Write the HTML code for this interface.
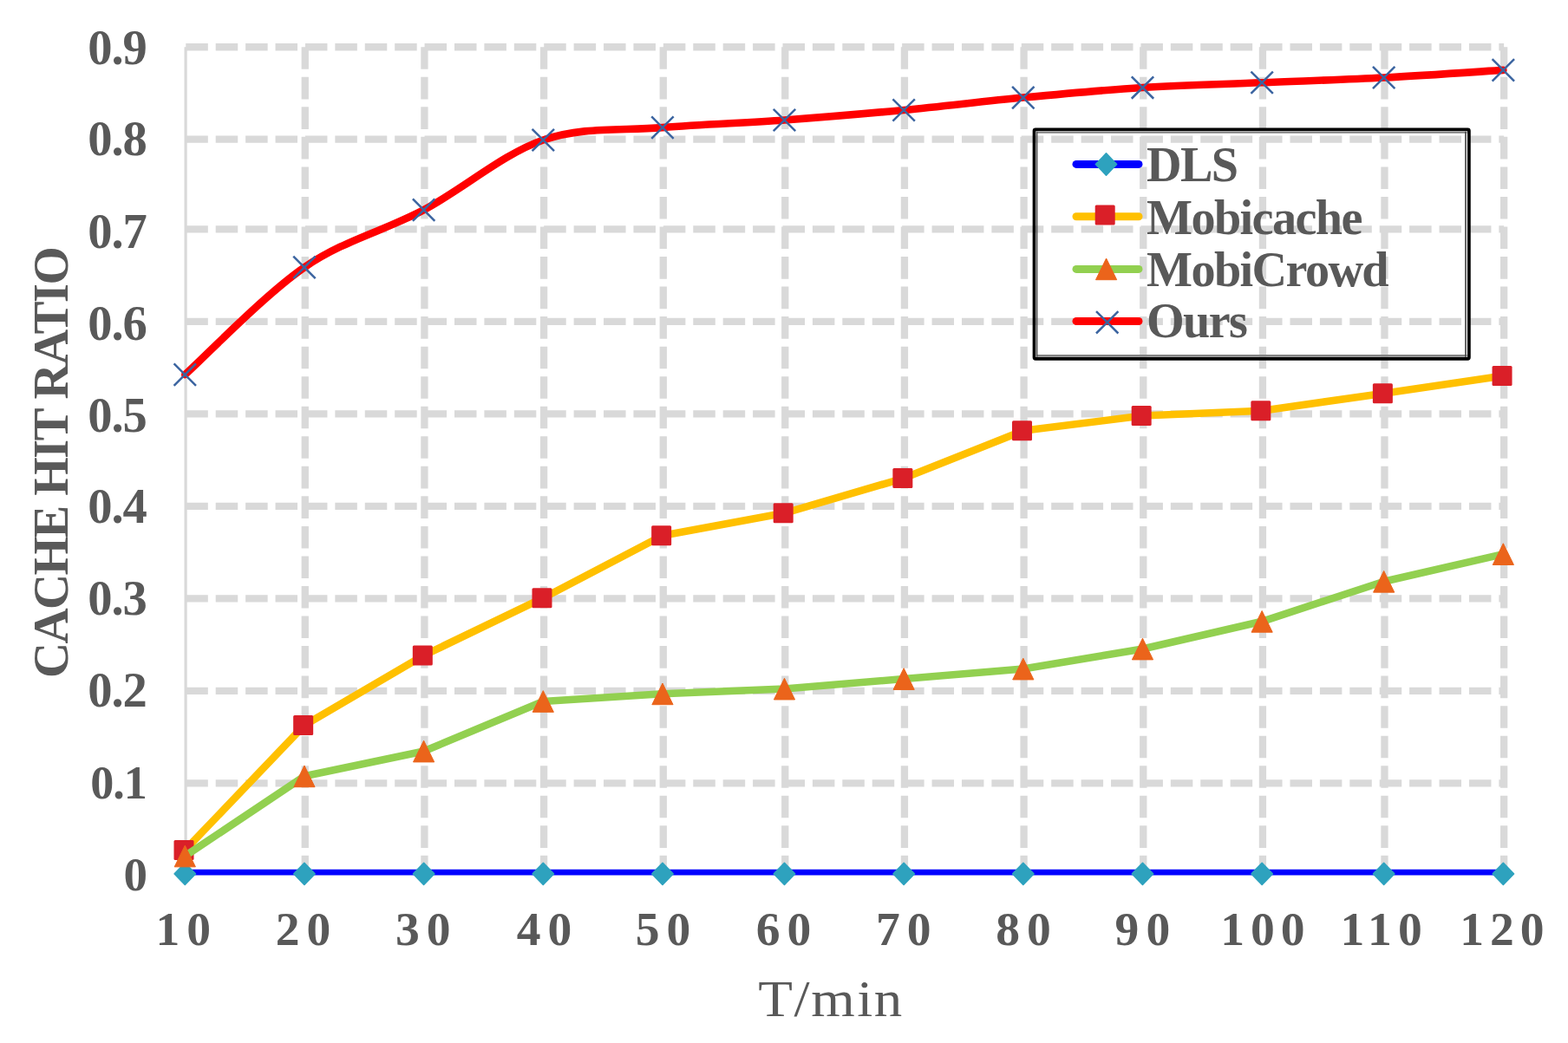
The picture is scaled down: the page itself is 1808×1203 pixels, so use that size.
<!DOCTYPE html>
<html lang="en"><head><meta charset="utf-8"><title>Cache hit ratio vs T/min</title>
<style>
html,body{margin:0;padding:0;background:#fff;}
body{width:1808px;height:1203px;overflow:hidden;}
svg{display:block;}
text{font-family:"Liberation Serif","DejaVu Serif",serif;fill:#595959;}
.b{font-weight:bold;}
</style></head><body>
<svg width="1808" height="1203" viewBox="0 0 1808 1203" role="img" aria-label="Cache hit ratio versus T/min for DLS, Mobicache, MobiCrowd and Ours">
<rect width="1808" height="1203" fill="#fff"/>
<g fill="none" stroke="#D9D9D9" stroke-width="8.3">
<g stroke-dasharray="25.5 8.91">
<path d="M214.30 903.43 H1734.14"/>
<path d="M214.30 796.91 H1734.14"/>
<path d="M214.30 690.38 H1734.14"/>
<path d="M214.30 583.86 H1734.14"/>
<path d="M214.30 477.34 H1734.14"/>
<path d="M214.30 370.82 H1734.14"/>
<path d="M214.30 264.29 H1734.14"/>
<path d="M214.30 160.70 H1734.14"/>
<path d="M214.30 54.25 H1734.14"/>
</g>
<g stroke-dasharray="25.6 8.94">
<path d="M351.76 54.25 V1006.00"/>
<path d="M489.42 54.25 V1006.00"/>
<path d="M627.09 54.25 V1006.00"/>
<path d="M764.75 54.25 V1006.00"/>
<path d="M905.28 54.25 V1006.00"/>
<path d="M1042.95 54.25 V1006.00"/>
<path d="M1180.61 54.25 V1006.00"/>
<path d="M1318.28 54.25 V1006.00"/>
<path d="M1455.94 54.25 V1006.00"/>
<path d="M1596.47 54.25 V1006.00"/>
<path d="M1734.14 54.25 V1006.00"/>
</g>
</g>
<path d="M214.10 54.25 V1006.00" stroke="#D9D9D9" stroke-width="3.2" fill="none"/>
<path d="M213.30 1006.10 L350.96 1006.10 L488.62 1006.10 L626.29 1006.10 L763.95 1006.10 L904.48 1006.10 L1042.15 1006.10 L1179.81 1006.10 L1317.48 1006.10 L1455.14 1006.10 L1595.67 1006.10 L1733.34 1006.10" fill="none" stroke="#0000FF" stroke-width="6.6" stroke-linecap="round" stroke-linejoin="round"/>
<path d="M213.30 995.30 L225.40 1007.90 L213.30 1020.50 L201.20 1007.90Z" fill="#2EA2BE" stroke="#2EA2BE" stroke-width="1.6" stroke-linejoin="round"/>
<path d="M350.96 995.30 L363.06 1007.90 L350.96 1020.50 L338.86 1007.90Z" fill="#2EA2BE" stroke="#2EA2BE" stroke-width="1.6" stroke-linejoin="round"/>
<path d="M488.62 995.30 L500.72 1007.90 L488.62 1020.50 L476.52 1007.90Z" fill="#2EA2BE" stroke="#2EA2BE" stroke-width="1.6" stroke-linejoin="round"/>
<path d="M626.29 995.30 L638.39 1007.90 L626.29 1020.50 L614.19 1007.90Z" fill="#2EA2BE" stroke="#2EA2BE" stroke-width="1.6" stroke-linejoin="round"/>
<path d="M763.95 995.30 L776.05 1007.90 L763.95 1020.50 L751.85 1007.90Z" fill="#2EA2BE" stroke="#2EA2BE" stroke-width="1.6" stroke-linejoin="round"/>
<path d="M904.48 995.30 L916.58 1007.90 L904.48 1020.50 L892.38 1007.90Z" fill="#2EA2BE" stroke="#2EA2BE" stroke-width="1.6" stroke-linejoin="round"/>
<path d="M1042.15 995.30 L1054.25 1007.90 L1042.15 1020.50 L1030.05 1007.90Z" fill="#2EA2BE" stroke="#2EA2BE" stroke-width="1.6" stroke-linejoin="round"/>
<path d="M1179.81 995.30 L1191.91 1007.90 L1179.81 1020.50 L1167.71 1007.90Z" fill="#2EA2BE" stroke="#2EA2BE" stroke-width="1.6" stroke-linejoin="round"/>
<path d="M1317.48 995.30 L1329.58 1007.90 L1317.48 1020.50 L1305.38 1007.90Z" fill="#2EA2BE" stroke="#2EA2BE" stroke-width="1.6" stroke-linejoin="round"/>
<path d="M1455.14 995.30 L1467.24 1007.90 L1455.14 1020.50 L1443.04 1007.90Z" fill="#2EA2BE" stroke="#2EA2BE" stroke-width="1.6" stroke-linejoin="round"/>
<path d="M1595.67 995.30 L1607.77 1007.90 L1595.67 1020.50 L1583.57 1007.90Z" fill="#2EA2BE" stroke="#2EA2BE" stroke-width="1.6" stroke-linejoin="round"/>
<path d="M1733.34 995.30 L1745.44 1007.90 L1733.34 1020.50 L1721.24 1007.90Z" fill="#2EA2BE" stroke="#2EA2BE" stroke-width="1.6" stroke-linejoin="round"/>
<path d="M213.30 980.50 L350.96 836.55 L488.62 755.94 L626.29 689.72 L763.95 617.75 L904.48 591.84 L1042.15 551.53 L1179.81 496.83 L1317.48 479.56 L1455.14 473.80 L1595.67 453.64 L1733.34 433.49" fill="none" stroke="#FFC000" stroke-width="8.6" stroke-linecap="round" stroke-linejoin="round"/>
<rect x="200.50" y="969.00" width="23.00" height="23.00" rx="1.5" fill="#DA1F28"/>
<rect x="338.16" y="825.05" width="23.00" height="23.00" rx="1.5" fill="#DA1F28"/>
<rect x="475.82" y="744.44" width="23.00" height="23.00" rx="1.5" fill="#DA1F28"/>
<rect x="613.49" y="678.22" width="23.00" height="23.00" rx="1.5" fill="#DA1F28"/>
<rect x="751.15" y="606.25" width="23.00" height="23.00" rx="1.5" fill="#DA1F28"/>
<rect x="891.68" y="580.34" width="23.00" height="23.00" rx="1.5" fill="#DA1F28"/>
<rect x="1029.35" y="540.03" width="23.00" height="23.00" rx="1.5" fill="#DA1F28"/>
<rect x="1167.01" y="485.33" width="23.00" height="23.00" rx="1.5" fill="#DA1F28"/>
<rect x="1304.68" y="468.06" width="23.00" height="23.00" rx="1.5" fill="#DA1F28"/>
<rect x="1442.34" y="462.30" width="23.00" height="23.00" rx="1.5" fill="#DA1F28"/>
<rect x="1582.87" y="442.14" width="23.00" height="23.00" rx="1.5" fill="#DA1F28"/>
<rect x="1720.54" y="421.99" width="23.00" height="23.00" rx="1.5" fill="#DA1F28"/>
<path d="M213.30 987.44 L350.96 895.31 L488.62 866.52 L626.29 808.94 L763.95 800.30 L904.48 794.55 L1042.15 783.03 L1179.81 771.51 L1317.48 748.48 L1455.14 716.81 L1595.67 670.75 L1733.34 639.08" fill="none" stroke="#92D050" stroke-width="8.6" stroke-linecap="round" stroke-linejoin="round"/>
<path d="M213.30 975.14 L225.40 999.84 L201.20 999.84Z" fill="#EB641B" stroke="#EB641B" stroke-width="1" stroke-linejoin="round"/>
<path d="M350.96 883.01 L363.06 907.71 L338.86 907.71Z" fill="#EB641B" stroke="#EB641B" stroke-width="1" stroke-linejoin="round"/>
<path d="M488.62 854.22 L500.72 878.92 L476.52 878.92Z" fill="#EB641B" stroke="#EB641B" stroke-width="1" stroke-linejoin="round"/>
<path d="M626.29 796.64 L638.39 821.34 L614.19 821.34Z" fill="#EB641B" stroke="#EB641B" stroke-width="1" stroke-linejoin="round"/>
<path d="M763.95 788.00 L776.05 812.70 L751.85 812.70Z" fill="#EB641B" stroke="#EB641B" stroke-width="1" stroke-linejoin="round"/>
<path d="M904.48 782.25 L916.58 806.95 L892.38 806.95Z" fill="#EB641B" stroke="#EB641B" stroke-width="1" stroke-linejoin="round"/>
<path d="M1042.15 770.73 L1054.25 795.43 L1030.05 795.43Z" fill="#EB641B" stroke="#EB641B" stroke-width="1" stroke-linejoin="round"/>
<path d="M1179.81 759.21 L1191.91 783.91 L1167.71 783.91Z" fill="#EB641B" stroke="#EB641B" stroke-width="1" stroke-linejoin="round"/>
<path d="M1317.48 736.18 L1329.58 760.88 L1305.38 760.88Z" fill="#EB641B" stroke="#EB641B" stroke-width="1" stroke-linejoin="round"/>
<path d="M1455.14 704.51 L1467.24 729.21 L1443.04 729.21Z" fill="#EB641B" stroke="#EB641B" stroke-width="1" stroke-linejoin="round"/>
<path d="M1595.67 658.45 L1607.77 683.15 L1583.57 683.15Z" fill="#EB641B" stroke="#EB641B" stroke-width="1" stroke-linejoin="round"/>
<path d="M1733.34 626.78 L1745.44 651.48 L1721.24 651.48Z" fill="#EB641B" stroke="#EB641B" stroke-width="1" stroke-linejoin="round"/>
<path d="M213.30 432.14 C236.24 411.51 305.07 340.01 350.96 308.34 C396.85 276.67 442.74 266.60 488.62 242.12 C534.51 217.65 580.40 177.35 626.29 161.51 C672.18 145.68 717.59 150.96 763.95 147.12 C810.32 143.28 858.12 141.84 904.48 138.48 C950.85 135.12 996.26 131.28 1042.15 126.96 C1088.04 122.65 1133.92 116.89 1179.81 112.57 C1225.70 108.25 1271.59 103.93 1317.48 101.05 C1363.36 98.17 1408.77 97.21 1455.14 95.29 C1501.51 93.38 1549.31 91.94 1595.67 89.54 C1642.04 87.14 1710.39 82.34 1733.34 80.90" fill="none" stroke="#FF0000" stroke-width="8.6" stroke-linecap="round" stroke-linejoin="round"/>
<path d="M200.60 419.44 L226.00 444.84 M200.60 444.84 L226.00 419.44" fill="none" stroke="#3B64A0" stroke-width="2.5"/>
<path d="M338.26 295.64 L363.66 321.04 M338.26 321.04 L363.66 295.64" fill="none" stroke="#3B64A0" stroke-width="2.5"/>
<path d="M475.92 229.42 L501.32 254.82 M475.92 254.82 L501.32 229.42" fill="none" stroke="#3B64A0" stroke-width="2.5"/>
<path d="M613.59 148.81 L638.99 174.21 M613.59 174.21 L638.99 148.81" fill="none" stroke="#3B64A0" stroke-width="2.5"/>
<path d="M751.25 134.42 L776.65 159.82 M751.25 159.82 L776.65 134.42" fill="none" stroke="#3B64A0" stroke-width="2.5"/>
<path d="M891.78 125.78 L917.18 151.18 M891.78 151.18 L917.18 125.78" fill="none" stroke="#3B64A0" stroke-width="2.5"/>
<path d="M1029.45 114.26 L1054.85 139.66 M1029.45 139.66 L1054.85 114.26" fill="none" stroke="#3B64A0" stroke-width="2.5"/>
<path d="M1167.11 99.87 L1192.51 125.27 M1167.11 125.27 L1192.51 99.87" fill="none" stroke="#3B64A0" stroke-width="2.5"/>
<path d="M1304.78 88.35 L1330.18 113.75 M1304.78 113.75 L1330.18 88.35" fill="none" stroke="#3B64A0" stroke-width="2.5"/>
<path d="M1442.44 82.59 L1467.84 107.99 M1442.44 107.99 L1467.84 82.59" fill="none" stroke="#3B64A0" stroke-width="2.5"/>
<path d="M1582.97 76.84 L1608.37 102.24 M1582.97 102.24 L1608.37 76.84" fill="none" stroke="#3B64A0" stroke-width="2.5"/>
<path d="M1720.64 68.20 L1746.04 93.60 M1720.64 93.60 L1746.04 68.20" fill="none" stroke="#3B64A0" stroke-width="2.5"/>
<text class="b" font-size="55" letter-spacing="-1.1" x="168.80" y="1026.63" text-anchor="end">0</text>
<text class="b" font-size="54.2" letter-spacing="-1.1" x="168.80" y="920.81" text-anchor="end">0.1</text>
<text class="b" font-size="56.6" letter-spacing="-1.1" x="168.80" y="814.99" text-anchor="end">0.2</text>
<text class="b" font-size="56.6" letter-spacing="-1.1" x="168.80" y="709.17" text-anchor="end">0.3</text>
<text class="b" font-size="56.6" letter-spacing="-1.1" x="168.80" y="603.35" text-anchor="end">0.4</text>
<text class="b" font-size="56.6" letter-spacing="-1.1" x="168.80" y="497.53" text-anchor="end">0.5</text>
<text class="b" font-size="56.6" letter-spacing="-1.1" x="168.80" y="391.71" text-anchor="end">0.6</text>
<text class="b" font-size="56.6" letter-spacing="-1.1" x="168.80" y="285.89" text-anchor="end">0.7</text>
<text class="b" font-size="56.6" letter-spacing="-1.1" x="168.80" y="178.50" text-anchor="end">0.8</text>
<text class="b" font-size="56.6" letter-spacing="-1.1" x="168.80" y="74.25" text-anchor="end">0.9</text>
<text class="b" font-size="55.6" x="215.30" y="1089.5" text-anchor="middle" letter-spacing="8">10</text>
<text class="b" font-size="55.6" x="353.50" y="1089.5" text-anchor="middle" letter-spacing="8">20</text>
<text class="b" font-size="55.6" x="491.80" y="1089.5" text-anchor="middle" letter-spacing="8">30</text>
<text class="b" font-size="55.6" x="631.60" y="1089.5" text-anchor="middle" letter-spacing="8">40</text>
<text class="b" font-size="55.6" x="768.50" y="1089.5" text-anchor="middle" letter-spacing="8">50</text>
<text class="b" font-size="55.6" x="907.60" y="1089.5" text-anchor="middle" letter-spacing="8">60</text>
<text class="b" font-size="55.6" x="1045.70" y="1089.5" text-anchor="middle" letter-spacing="8">70</text>
<text class="b" font-size="55.6" x="1184.10" y="1089.5" text-anchor="middle" letter-spacing="8">80</text>
<text class="b" font-size="55.6" x="1321.40" y="1089.5" text-anchor="middle" letter-spacing="8">90</text>
<text class="b" font-size="55.6" x="1459.35" y="1089.5" text-anchor="middle" letter-spacing="7">100</text>
<text class="b" font-size="55.6" x="1596.05" y="1089.5" text-anchor="middle" letter-spacing="7">110</text>
<text class="b" font-size="55.6" x="1735.35" y="1089.5" text-anchor="middle" letter-spacing="7">120</text>
<text class="b" font-size="57" letter-spacing="-1.62" transform="translate(78 534) rotate(-90)" text-anchor="middle">CACHE HIT RATIO</text>
<text x="787.66 824.77 842.52 890.36 907.93" y="1172" font-size="58.5" transform="scale(1.11 1)">T/min</text>
<rect x="1192.50" y="149.35" width="501.40" height="264.45" rx="1.5" fill="none" stroke="#000" stroke-width="3.7" stroke-linejoin="round"/>
<path d="M1194.90 152.80 H1691.50" fill="none" stroke="#808080" stroke-width="2.1"/>
<path d="M1194.90 410.40 H1691.50" fill="none" stroke="#858585" stroke-width="2.6"/>
<path d="M1195.70 151.80 V411.70" fill="none" stroke="#5A5A5A" stroke-width="1.5"/>
<path d="M1690.00 151.80 V411.70" fill="none" stroke="#4A4A4A" stroke-width="1.7"/>
<path d="M1241.00 189.40 H1313.00" fill="none" stroke="#0000FF" stroke-width="9" stroke-linecap="round"/>
<path d="M1275.50 176.90 L1287.60 189.50 L1275.50 202.10 L1263.40 189.50Z" fill="#2EA2BE" stroke="#2EA2BE" stroke-width="1.6" stroke-linejoin="round"/>
<text class="b" font-size="56.2" letter-spacing="-1.6" x="1322" y="209.00">DLS</text>
<path d="M1241.00 249.80 H1313.00" fill="none" stroke="#FFC000" stroke-width="9" stroke-linecap="round"/>
<rect x="1262.70" y="236.45" width="23.00" height="23.00" rx="1.5" fill="#DA1F28"/>
<text class="b" font-size="56.2" letter-spacing="-1.6" x="1322" y="269.50">Mobicache</text>
<path d="M1241.00 310.40 H1313.00" fill="none" stroke="#92D050" stroke-width="9" stroke-linecap="round"/>
<path d="M1275.60 298.00 L1287.70 322.70 L1263.50 322.70Z" fill="#EB641B" stroke="#EB641B" stroke-width="1" stroke-linejoin="round"/>
<text class="b" font-size="56.2" letter-spacing="-1.6" x="1322" y="330.00">MobiCrowd</text>
<path d="M1241.00 370.50 H1313.00" fill="none" stroke="#FF0000" stroke-width="9" stroke-linecap="round"/>
<path d="M1264.00 359.10 L1289.40 384.50 M1264.00 384.50 L1289.40 359.10" fill="none" stroke="#3B64A0" stroke-width="2.5"/>
<text class="b" font-size="56.2" letter-spacing="-1.6" x="1322" y="388.90">Ours</text>
</svg>
</body></html>
